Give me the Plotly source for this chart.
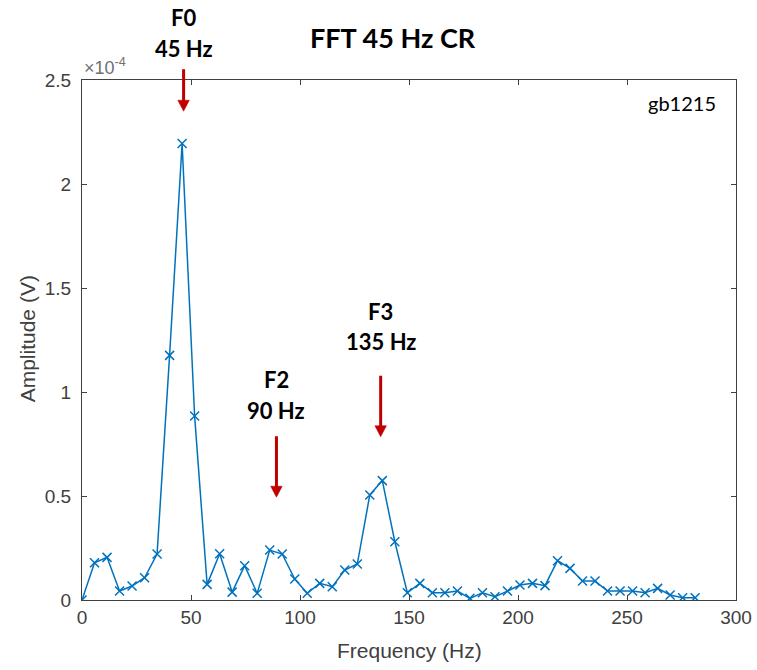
import plotly.graph_objects as go

# FFT bin frequencies (Hz) and amplitudes (units of 1e-4 V)
freq_hz = [0.00, 5.74, 11.48, 17.22, 22.96, 28.70, 34.44, 40.18, 45.92, 51.66,
           57.40, 63.14, 68.88, 74.62, 80.36, 86.10, 91.84, 97.58, 103.32, 109.06,
           114.80, 120.54, 126.28, 132.02, 137.76, 143.50, 149.24, 154.98, 160.72, 166.46,
           172.20, 177.94, 183.68, 189.42, 195.16, 200.90, 206.64, 212.38, 218.12, 223.86,
           229.60, 235.34, 241.08, 246.82, 252.56, 258.30, 264.04, 269.78, 275.52, 281.26]
amp_e4 = [0.000, 0.179, 0.205, 0.043, 0.067, 0.107, 0.221, 1.176, 2.195, 0.885,
          0.075, 0.222, 0.038, 0.165, 0.032, 0.240, 0.221, 0.101, 0.032, 0.080,
          0.064, 0.144, 0.173, 0.505, 0.574, 0.280, 0.035, 0.080, 0.035, 0.035,
          0.043, 0.008, 0.035, 0.016, 0.043, 0.072, 0.080, 0.069, 0.189, 0.152,
          0.091, 0.091, 0.043, 0.043, 0.043, 0.035, 0.056, 0.024, 0.011, 0.011]

x_ticks = [0, 50, 100, 150, 200, 250, 300]
y_ticks = [0, 0.5, 1, 1.5, 2, 2.5]
X_RANGE = [0, 300]
Y_RANGE = [0, 2.5]

# Harmonic markers: label lines, arrow x (Hz), arrow tip (1e-4 V), label heights (1e-4 V), arrow length (px)
harm_names = ["F0", "F2", "F3"]
harm_freqs = ["45 Hz", "90 Hz", "135 Hz"]
harm_x = [46.6, 89.2, 137.0]
harm_tip = [2.35, 0.494, 0.785]
harm_name_y = [2.80, 1.058, 1.386]
harm_freq_y = [2.652, 0.910, 1.242]
harm_len = [42, 61, 61]

AX_COLOR = "#404040"
LINE_BLUE = "#0072BD"
ARROW_RED = "#C00000"

# Plot-area size in pixels (figure size minus margins), used to size arrowheads
FIG_W, FIG_H = 757, 670
MARGIN = dict(l=82, r=21, t=80, b=70)
PLOT_W = FIG_W - MARGIN["l"] - MARGIN["r"]
PLOT_H = FIG_H - MARGIN["t"] - MARGIN["b"]
HEAD_LEN_PX, HEAD_HALF_PX, SHAFT_PX = 11, 5.8, 3


def to_paper(v, rng):
    return (v - rng[0]) / (rng[1] - rng[0])


fig = go.Figure()
fig.add_trace(go.Scatter(
    x=freq_hz, y=amp_e4, mode="lines+markers",
    line=dict(color=LINE_BLUE, width=1.5),
    marker=dict(symbol="x-thin-open", size=9, color=LINE_BLUE,
                line=dict(color=LINE_BLUE, width=1.5)),
    showlegend=False, hoverinfo="skip",
))

annotations = []
shapes = []
label_font = dict(family="Lato, sans-serif", size=22, color="black")
for name, ftxt, hx, tip, ny, fy, ln in zip(harm_names, harm_freqs, harm_x, harm_tip,
                                           harm_name_y, harm_freq_y, harm_len):
    px = to_paper(hx, X_RANGE)
    annotations.append(dict(x=px, y=to_paper(ny, Y_RANGE), xref="paper", yref="paper",
                            text=f"<b>{name}</b>", showarrow=False, font=label_font,
                            xanchor="center", yanchor="middle"))
    annotations.append(dict(x=px, y=to_paper(fy, Y_RANGE), xref="paper", yref="paper",
                            text=f"<b>{ftxt}</b>", showarrow=False, font=label_font,
                            xanchor="center", yanchor="middle"))
    # red down arrow: shaft + triangular head
    tip_p = to_paper(tip, Y_RANGE)
    head_base = tip_p + HEAD_LEN_PX / PLOT_H
    tail = tip_p + ln / PLOT_H
    half = HEAD_HALF_PX / PLOT_W
    shapes.append(dict(type="line", xref="paper", yref="paper",
                       x0=px, x1=px, y0=tail, y1=head_base - 1 / PLOT_H,
                       line=dict(color=ARROW_RED, width=SHAFT_PX)))
    shapes.append(dict(type="path", xref="paper", yref="paper",
                       path=f"M {px - half} {head_base} L {px + half} {head_base} L {px} {tip_p} Z",
                       fillcolor=ARROW_RED, line=dict(color=ARROW_RED, width=0.5)))

# Title, tag, exponent and axis titles
annotations += [
    dict(x=0.475, y=1.081, xref="paper", yref="paper", text="<b>FFT 45 Hz CR</b>",
         showarrow=False, font=dict(family="Lato, sans-serif", size=27, color="black"),
         xanchor="center", yanchor="middle"),
    dict(x=0.917, y=0.955, xref="paper", yref="paper", text="gb1215",
         showarrow=False, font=dict(family="Lato, sans-serif", size=20, color="black"),
         xanchor="center", yanchor="middle"),
    dict(x=0.0, y=1.0, xref="paper", yref="paper", text="×10<sup>-4</sup>",
         showarrow=False, font=dict(family="Liberation Sans, Arial", size=18, color="#707070"),
         xanchor="left", yanchor="bottom"),
    dict(x=0.5, y=-0.097, xref="paper", yref="paper", text="Frequency (Hz)",
         showarrow=False, font=dict(family="Liberation Sans, Arial", size=21, color=AX_COLOR),
         xanchor="center", yanchor="middle"),
    dict(x=-0.082, y=0.502, xref="paper", yref="paper", text="Amplitude (V)",
         showarrow=False, textangle=-90,
         font=dict(family="Liberation Sans, Arial", size=21, color=AX_COLOR),
         xanchor="center", yanchor="middle"),
]

axis_common = dict(
    showgrid=False, zeroline=False, showline=True, linecolor=AX_COLOR, linewidth=1,
    mirror="ticks", ticks="inside", ticklen=5, tickwidth=1, tickcolor=AX_COLOR,
    automargin=False,
    tickfont=dict(family="Liberation Sans, Arial", size=19, color=AX_COLOR),
)

fig.update_layout(
    width=FIG_W, height=FIG_H,
    margin=MARGIN,
    paper_bgcolor="white", plot_bgcolor="white",
    xaxis=dict(range=X_RANGE, tickvals=x_ticks, **axis_common),
    yaxis=dict(range=Y_RANGE, tickvals=y_ticks, ticklabelstandoff=6, **axis_common),
    annotations=annotations,
    shapes=shapes,
)

fig.write_html("out.html")
